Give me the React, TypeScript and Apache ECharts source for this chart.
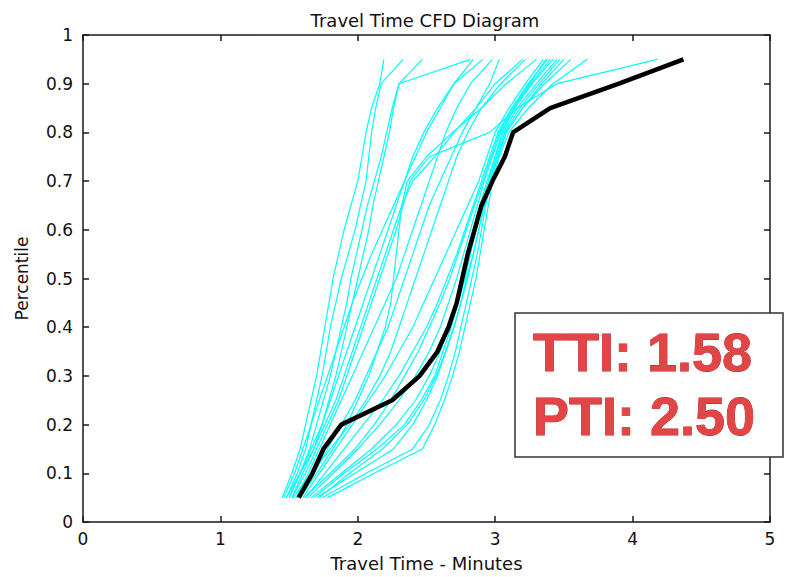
import React, { useEffect, useRef } from "react";
import * as echarts from "echarts";

// Percentile levels (y values) shared by every curve
const percentiles = [0.05, 0.1, 0.15, 0.2, 0.25, 0.3, 0.35, 0.4, 0.45, 0.5, 0.55, 0.6, 0.65, 0.7, 0.75, 0.8, 0.85, 0.9, 0.95];

// Average (black) travel-time CFD, minutes at each percentile
const averageCurve = [1.57, 1.67, 1.75, 1.88, 2.25, 2.45, 2.58, 2.66, 2.72, 2.76, 2.8, 2.85, 2.9, 2.98, 3.07, 3.13, 3.4, 3.9, 4.37];

// Individual (cyan) travel-time CFDs, minutes at each percentile
const runL1 = [1.45, 1.52, 1.58, 1.62, 1.66, 1.7, 1.73, 1.76, 1.79, 1.82, 1.86, 1.9, 1.95, 2.0, 2.03, 2.06, 2.1, 2.16, 2.19];
const runL2 = [1.48, 1.56, 1.62, 1.66, 1.7, 1.74, 1.77, 1.8, 1.84, 1.88, 1.93, 1.98, 2.02, 2.06, 2.08, 2.1, 2.13, 2.17, 2.33];
const runL3 = [1.5, 1.58, 1.65, 1.7, 1.75, 1.8, 1.84, 1.88, 1.92, 1.95, 1.99, 2.03, 2.07, 2.12, 2.17, 2.21, 2.25, 2.3, 2.82];
const runL4 = [1.52, 1.6, 1.68, 1.74, 1.79, 1.84, 1.88, 1.92, 1.96, 2.0, 2.04, 2.08, 2.11, 2.15, 2.19, 2.23, 2.26, 2.3, 2.47];
const runM1 = [1.46, 1.54, 1.6, 1.66, 1.72, 1.78, 1.84, 1.9, 1.96, 2.03, 2.1, 2.18, 2.26, 2.34, 2.42, 2.5, 2.6, 2.7, 2.84];
const runM2 = [1.5, 1.58, 1.66, 1.74, 1.8, 1.86, 1.92, 1.98, 2.04, 2.1, 2.16, 2.22, 2.28, 2.34, 2.4, 2.48, 2.58, 2.7, 2.91];
const runM3 = [1.52, 1.62, 1.7, 1.78, 1.86, 1.92, 1.98, 2.04, 2.1, 2.16, 2.22, 2.28, 2.33, 2.38, 2.52, 2.96, 3.16, 3.45, 4.18];
const runM4 = [1.55, 1.64, 1.72, 1.8, 1.88, 1.96, 2.04, 2.12, 2.2, 2.28, 2.34, 2.4, 2.46, 2.52, 2.58, 2.64, 2.72, 2.82, 2.98];
const runM5 = [1.56, 1.68, 1.78, 1.88, 1.98, 2.06, 2.14, 2.22, 2.28, 2.34, 2.4, 2.46, 2.52, 2.6, 2.68, 2.76, 2.86, 2.96, 3.03];
const runM6 = [1.48, 1.58, 1.68, 1.76, 1.84, 1.9, 1.96, 2.02, 2.08, 2.14, 2.2, 2.26, 2.32, 2.4, 2.56, 2.7, 2.86, 3.0, 3.2];
const runM7 = [1.58, 1.7, 1.82, 1.92, 2.0, 2.08, 2.14, 2.2, 2.24, 2.26, 2.28, 2.3, 2.32, 2.36, 2.5, 2.69, 2.9, 3.08, 3.3];
const runM8 = [1.53, 1.66, 1.8, 1.94, 2.06, 2.16, 2.24, 2.3, 2.36, 2.42, 2.48, 2.54, 2.6, 2.66, 2.72, 2.8, 2.9, 3.04, 3.22];
const runR1 = [1.6, 1.72, 1.84, 1.96, 2.08, 2.2, 2.3, 2.4, 2.48, 2.56, 2.64, 2.72, 2.8, 2.88, 2.94, 3.0, 3.1, 3.22, 3.35];
const runR2 = [1.62, 1.76, 1.9, 2.04, 2.18, 2.3, 2.4, 2.5, 2.58, 2.65, 2.72, 2.78, 2.84, 2.9, 2.96, 3.02, 3.12, 3.24, 3.38];
const runR3 = [1.64, 1.82, 2.0, 2.16, 2.3, 2.42, 2.52, 2.6, 2.66, 2.72, 2.77, 2.82, 2.87, 2.92, 2.98, 3.04, 3.14, 3.27, 3.42];
const runR4 = [1.66, 1.88, 2.1, 2.28, 2.42, 2.52, 2.6, 2.66, 2.72, 2.77, 2.81, 2.85, 2.89, 2.94, 3.0, 3.06, 3.16, 3.3, 3.45];
const runR5 = [1.7, 1.98, 2.26, 2.4, 2.5, 2.58, 2.64, 2.7, 2.75, 2.8, 2.84, 2.88, 2.92, 2.96, 3.01, 3.07, 3.18, 3.32, 3.47];
const runR6 = [1.74, 2.06, 2.4, 2.52, 2.6, 2.66, 2.71, 2.75, 2.79, 2.83, 2.87, 2.9, 2.93, 2.97, 3.02, 3.08, 3.2, 3.36, 3.55];
const runR7 = [1.78, 2.12, 2.47, 2.56, 2.63, 2.69, 2.74, 2.78, 2.82, 2.86, 2.89, 2.92, 2.95, 2.98, 3.03, 3.1, 3.24, 3.42, 3.67];
const runR8 = [1.68, 1.9, 2.14, 2.34, 2.46, 2.56, 2.62, 2.68, 2.73, 2.78, 2.82, 2.86, 2.9, 2.95, 3.0, 3.05, 3.14, 3.26, 3.4];
const runR9 = [1.72, 1.94, 2.18, 2.36, 2.48, 2.57, 2.64, 2.7, 2.75, 2.79, 2.84, 2.88, 2.92, 2.96, 3.02, 3.08, 3.2, 3.34, 3.5];
const runR10 = [1.61, 1.8, 1.98, 2.12, 2.24, 2.34, 2.44, 2.52, 2.6, 2.67, 2.73, 2.79, 2.85, 2.91, 2.97, 3.03, 3.13, 3.25, 3.37];

const runs = [runL1, runL2, runL3, runL4, runM1, runM2, runM3, runM4, runM5, runM6, runM7, runM8, runR1, runR2, runR3, runR4, runR5, runR6, runR7, runR8, runR9, runR10];

const xTicks = { min: 0, max: 5, interval: 1 };
const yTicks = { min: 0, max: 1, interval: 0.1 };
const chartTitle = "Travel Time CFD Diagram";
const xName = "Travel Time - Minutes";
const yName = "Percentile";
const ttiText = "TTI: 1.58";
const ptiText = "PTI: 2.50";

const FONT = "DejaVu Sans";

export default function App() {
  const ref = useRef<HTMLDivElement>(null);

  useEffect(() => {
    if (!ref.current) return;
    const chart = echarts.init(ref.current, null, { renderer: "svg" });

    const toPairs = (vals: number[]) => vals.map((v, i) => [v, percentiles[i]]);

    const axisLine = { show: true, onZero: false, lineStyle: { color: "#1a1a1a", width: 1.5 } };
    const axisTick = { show: true, inside: true, length: 6, lineStyle: { color: "#1a1a1a", width: 1.5 } };

    const series: any[] = runs.map((r, i) => ({
      name: "run" + (i + 1),
      type: "line",
      data: toPairs(r),
      symbol: "none",
      lineStyle: { color: "#00ffff", width: 1.2 },
      silent: true,
      z: 2,
    }));
    series.push({
      name: "Average",
      type: "line",
      data: toPairs(averageCurve),
      symbol: "none",
      lineStyle: { color: "#000000", width: 4.5 },
      z: 3,
    });

    const bigText = (text: string, y: number) => ({
      type: "text",
      z: 101,
      x: 533,
      y,
      style: {
        text,
        font: "bold 54px 'Liberation Sans', Arial, sans-serif",
        fill: "#e24545",
        stroke: "#b82222",
        lineWidth: 0.8,
        textAlign: "left",
        verticalAlign: "middle",
        shadowColor: "rgba(0,0,0,0.35)",
        shadowBlur: 3,
        shadowOffsetX: 2,
        shadowOffsetY: 2,
      },
    });

    chart.setOption({
      animation: false,
      textStyle: { fontFamily: FONT },
      title: {
        text: chartTitle,
        left: 420,
        top: 6,
        textAlign: "center",
        textStyle: { fontSize: 18, fontWeight: "normal", color: "#111", fontFamily: FONT },
      },
      grid: { left: 83, right: 16, top: 35, bottom: 52, containLabel: false },
      xAxis: [
        {
          type: "value",
          ...xTicks,
          position: "bottom",
          name: xName,
          nameLocation: "middle",
          nameGap: 32,
          nameTextStyle: { fontSize: 18, color: "#111", fontFamily: FONT },
          axisLine,
          axisTick,
          splitLine: { show: false },
          axisLabel: { fontSize: 17, color: "#111", margin: 8, fontFamily: FONT },
        },
        {
          type: "value",
          ...xTicks,
          position: "top",
          axisLine,
          axisTick,
          splitLine: { show: false },
          axisLabel: { show: false },
        },
      ],
      yAxis: [
        {
          type: "value",
          ...yTicks,
          position: "left",
          name: yName,
          nameLocation: "middle",
          nameGap: 53,
          nameRotate: 90,
          nameTextStyle: { fontSize: 17, color: "#111", fontFamily: FONT },
          axisLine,
          axisTick,
          splitLine: { show: false },
          axisLabel: { fontSize: 17, color: "#111", margin: 10, fontFamily: FONT },
        },
        {
          type: "value",
          ...yTicks,
          position: "right",
          axisLine,
          axisTick,
          splitLine: { show: false },
          axisLabel: { show: false },
        },
      ],
      series,
      graphic: [
        {
          type: "rect",
          z: 100,
          shape: { x: 515, y: 313, width: 268, height: 144 },
          style: { fill: "#ffffff", stroke: "#333333", lineWidth: 1.5 },
        },
        bigText(ttiText, 352),
        bigText(ptiText, 416),
      ],
    });

    return () => chart.dispose();
  }, []);

  return (
    <div
      ref={ref}
      style={{ position: "absolute", left: 0, top: 0, width: 786, height: 577, background: "#ffffff" }}
    />
  );
}
